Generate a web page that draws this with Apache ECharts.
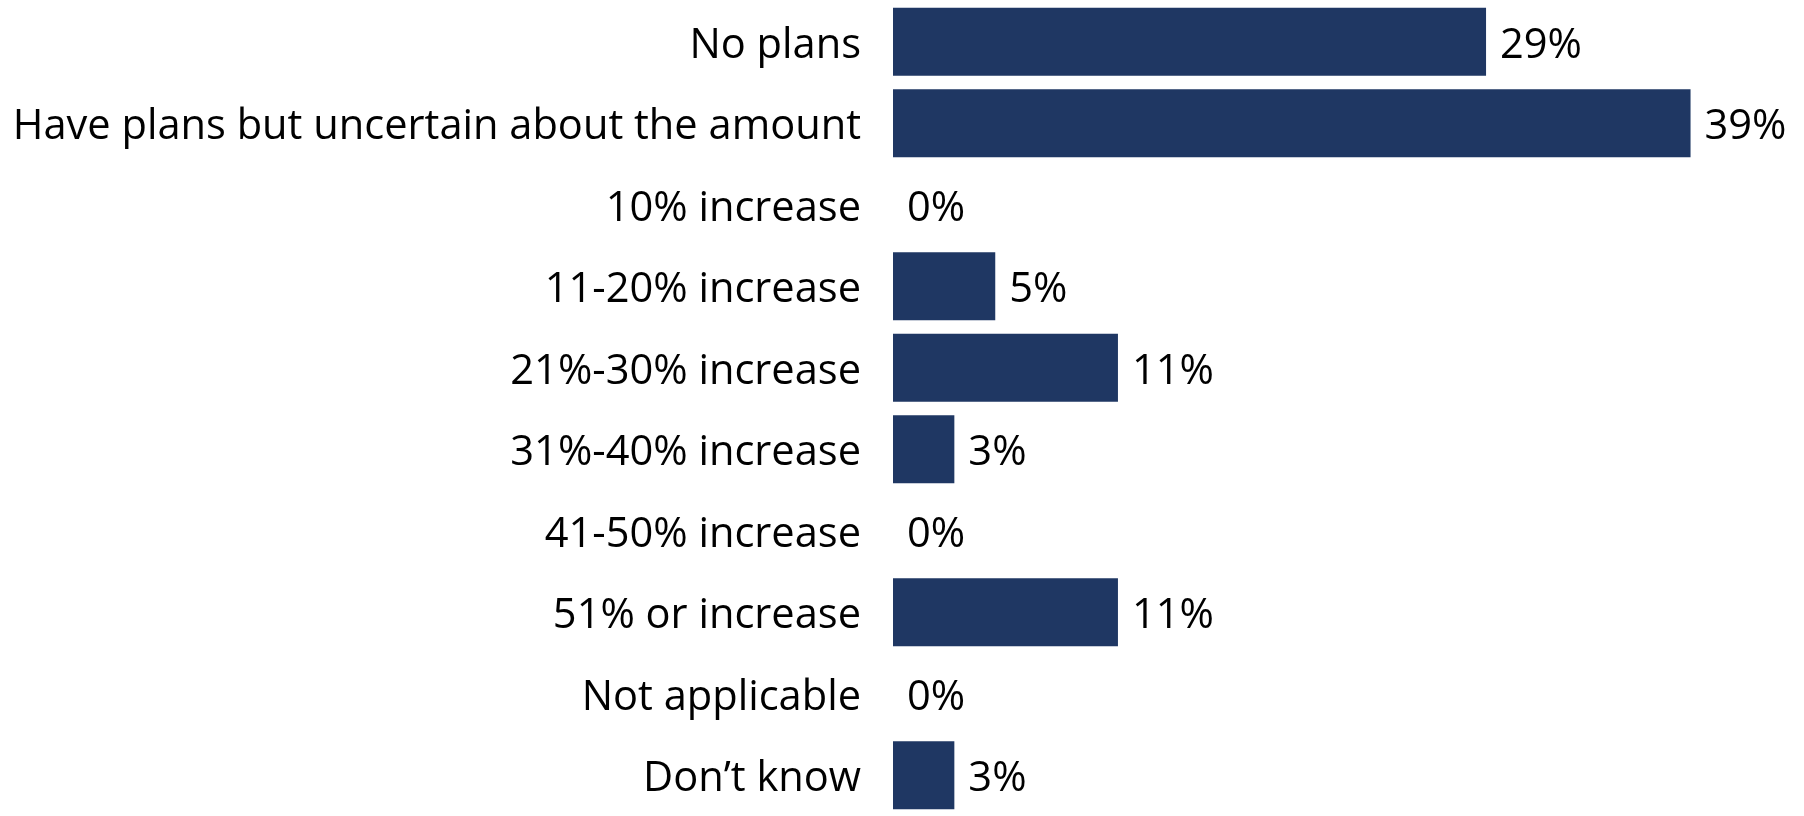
<!DOCTYPE html>
<html>
<head>
<meta charset="utf-8">
<script src="https://cdn.jsdelivr.net/npm/echarts@6/dist/echarts.min.js"></script>
<style>
  html, body { margin: 0; padding: 0; background: #ffffff; }
  #chart { width: 1804px; height: 816px; }
</style>
</head>
<body>
<div id="chart"></div>
<script>
// Planned change categories, top to bottom
const categories = [
  'No plans',
  'Have plans but uncertain about the amount',
  '10% increase',
  '11-20% increase',
  '21%-30% increase',
  '31%-40% increase',
  '41-50% increase',
  '51% or increase',
  'Not applicable',
  'Don\u2019t know'
];
// Share of respondents, percent
const shares = [29, 39, 0, 5, 11, 3, 0, 11, 0, 3];

const FONT = '"Open Sans", "Noto Sans", sans-serif';
const chart = echarts.init(document.getElementById('chart'));

chart.setOption({
  animation: false,
  backgroundColor: '#ffffff',
  grid: { left: 893, top: 1, width: 818, height: 823, containLabel: false },
  xAxis: {
    type: 'value',
    min: 0,
    max: 40,
    show: false
  },
  yAxis: {
    type: 'category',
    data: categories,
    inverse: true,
    axisLine: { show: false },
    axisTick: { show: false },
    splitLine: { show: false },
    axisLabel: {
      margin: 32,
      formatter: v => '{c|' + v + '}',
      rich: {
        c: {
          color: '#000000',
          fontFamily: FONT,
          fontSize: 41.6,
          padding: [8, 0, 0, 0]
        }
      }
    }
  },
  series: [{
    type: 'bar',
    data: shares,
    barWidth: 68,
    itemStyle: { color: '#1F3763' },
    label: {
      show: true,
      position: 'right',
      distance: 14,
      offset: [0, 4],
      color: '#000000',
      fontFamily: FONT,
      fontSize: 41.6,
      formatter: p => p.value + '%'
    }
  }]
});
</script>
</body>
</html>
